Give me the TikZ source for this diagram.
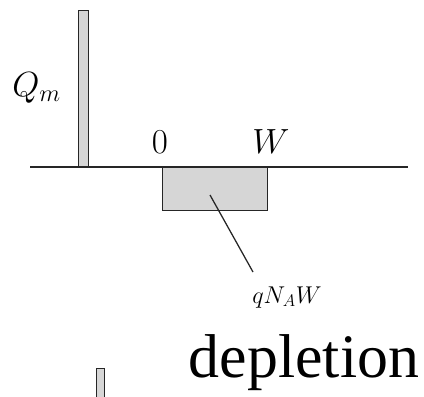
\documentclass[tikz,border=0pt]{standalone}
\usepackage{fontspec}
\newfontfamily\deplfont{Liberation Serif}
\usepackage{tikz}
\usetikzlibrary{positioning}
\definecolor{chargegray}{RGB}{214,214,214}

\begin{document}
\begin{tikzpicture}[
  charge/.style={draw=black!85, line width=1pt, fill=chargegray},
  axisline/.style={draw=black!85, line width=1.4pt},
  leader/.style={draw=black!85, line width=0.9pt},
  lbl/.style={inner sep=0pt, font=\fontsize{24}{26}\selectfont},
  every node/.style={inner sep=0pt}
]
  \useasboundingbox (0,0) rectangle (10.6,-9.9);

  %% --- Metal charge sheet ---
  \node[charge, rectangle, minimum width=0.25cm, minimum height=3.9cm, anchor=south west]
    (qm) at (1.95,-4.175) {};
  \node[lbl, font=\fontsize{27}{29}\selectfont, anchor=base west]
    (qmlab) at (0.3,-2.4) {$Q_m$};

  %% --- Depletion charge block ---
  \node[charge, rectangle, minimum width=2.625cm, minimum height=1.075cm, anchor=north west]
    (dep) at (4.05,-4.175) {};

  %% --- Axis ---
  \coordinate (axl) at (0.75,-4.175);
  \coordinate (axr) at (10.2,-4.175);
  \draw[axisline] (axl) -- (axr);

  %% --- Axis labels ---
  \node[lbl, anchor=base] (zero) at (4.0,-3.83) {$0$};
  \node[lbl, anchor=base] (wlab) at (6.775,-3.83) {$W$};

  %% --- Charge label and leader ---
  \node[lbl, font=\fontsize{18}{20}\selectfont, anchor=base west]
    (qnaw) at (6.3,-7.575) {$qN_AW$};
  \coordinate (inside) at (5.25,-4.875);
  \coordinate (tip) at (6.325,-6.8);
  \draw[leader] (inside) -- (tip);

  %% --- Caption ---
  \node[anchor=base, font=\deplfont\fontsize{44}{47}\selectfont]
    (cap) at (7.6,-9.425) {depletion};

  %% --- Next sheet, cut by the frame ---
  \node[charge, rectangle, minimum width=0.2cm, minimum height=0.9cm, anchor=north west]
    (qnext) at (2.4,-9.2) {};

\end{tikzpicture}
\end{document}
